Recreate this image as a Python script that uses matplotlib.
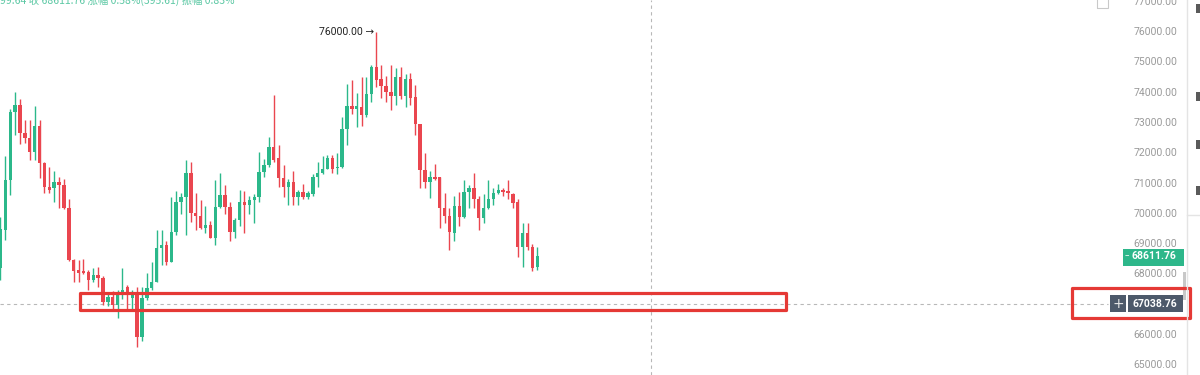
import matplotlib.pyplot as plt
from matplotlib.patches import Rectangle
from matplotlib.lines import Line2D
import matplotlib.transforms as mtransforms

# candle data, one entry per bar
opens = [68200, 69450, 71116, 73360, 73590, 72670, 72500, 72040, 72900, 71680,
         70880, 70850, 71050, 70950, 70190, 68476, 68150, 68100, 68080, 67816,
         67981, 67880, 67090, 67255, 66990, 67320, 67580, 67220, 67390, 65935,
         67220, 67550, 67750, 68870, 68970, 68410, 69400, 70390, 70555, 71350,
         70030, 69930, 69530, 69630, 69200, 70225, 70620, 70225, 69400, 69800,
         70390, 70290, 70450, 70550, 71380, 71610, 72200, 71840, 71180, 70885,
         71050, 70555, 70720, 70555, 70650, 71215, 71350, 71480, 71840, 71500,
         71545, 72800, 73560, 73460, 73525, 73260, 73950, 74845, 74450, 74220,
         74020, 73890, 74515, 73890, 74450, 73855, 72960, 71450, 71050, 71215,
         71215, 70192, 69928, 69370, 70260, 69900, 70720, 70850, 70490, 69860,
         70190, 70490, 70690, 70800, 70750, 70650, 70390, 68900, 69370, 68900,
         68245]
highs = [69900, 71900, 73450, 74020, 73800, 73100, 73100, 73560, 73100, 71700,
         71545, 71400, 71200, 71150, 70500, 68500, 68480, 68500, 68150, 68200,
         68250, 67950, 67400, 67450, 67500, 68210, 67650, 67500, 67580, 67600,
         68050, 68410, 69466, 69450, 69100, 70555, 70750, 70700, 71776, 71700,
         70700, 70450, 70250, 69750, 71116, 71350, 70950, 70400, 69850, 70785,
         70750, 70600, 70650, 72040, 71800, 72545, 73921, 72271, 71600, 71150,
         71400, 70800, 71000, 70750, 71300, 71700, 71900, 71950, 71950, 72000,
         73195, 74300, 74416, 74000, 74515, 74500, 74900, 76000, 74900, 74550,
         74900, 74800, 74850, 74600, 74650, 74250, 72960, 72000, 71400, 71650,
         71215, 70700, 70200, 70588, 70720, 71100, 70950, 71350, 70600, 70650,
         71100, 70850, 71000, 70850, 71116, 70700, 70500, 69700, 69700, 69000,
         68900]
lows = [67800, 69150, 70620, 72600, 72300, 72340, 71780, 71780, 71180, 70690,
        70700, 70390, 70190, 70150, 68450, 67750, 67750, 68000, 67486, 67750,
        67600, 67000, 66950, 66850, 66560, 67200, 66850, 66850, 65605, 65800,
        67150, 67500, 67750, 68300, 68300, 68400, 69300, 70000, 69300, 69740,
        69466, 69500, 69350, 69200, 68971, 70200, 70000, 69100, 69200, 69600,
        69367, 70000, 69700, 70400, 71200, 71550, 71700, 70885, 70555, 70300,
        70280, 70300, 70500, 70500, 70600, 70900, 71300, 71480, 71350, 71300,
        71500, 72271, 73300, 72865, 72900, 73200, 73700, 74200, 73822, 73700,
        73420, 73600, 73800, 73525, 73600, 72600, 70850, 70850, 70522, 71100,
        69530, 69700, 68800, 69100, 69600, 69850, 70200, 70200, 69466, 69700,
        70150, 70300, 70650, 70600, 70500, 70200, 68575, 68245, 68800, 68100,
        68150]
closes = [69500, 71100, 73360, 73590, 72670, 72500, 72040, 72900, 71680, 70885,
          70800, 71050, 70950, 70190, 68476, 68113, 68050, 68050, 67816, 67981,
          67880, 67090, 67255, 66990, 67320, 67486, 67420, 67390, 65935, 67220,
          67550, 67750, 68870, 68970, 68410, 69400, 70390, 70555, 71350, 70030,
          69930, 69530, 69630, 69200, 70225, 70620, 70225, 69400, 69800, 70390,
          70290, 70450, 70550, 71380, 71610, 72200, 71780, 71180, 70885, 71050,
          70555, 70720, 70555, 70700, 71215, 71350, 71480, 71840, 71480, 71560,
          72800, 73560, 73460, 73550, 73260, 73950, 74845, 74416, 74220, 74020,
          73890, 74515, 73890, 74450, 73822, 72960, 71450, 71050, 71215, 71150,
          70192, 69928, 69400, 70260, 69900, 70720, 70850, 70490, 69860, 70190,
          70490, 70690, 70780, 70720, 70680, 70360, 68900, 69370, 68900, 68212,
          68611.76]

price_ticks = [65000, 66000, 67000, 68000, 69000, 70000, 71000, 72000, 73000, 74000, 75000, 76000, 77000]
last_price = 68611.76
cross_price = 67038.76
cross_bar = 133.3
peak_label = '76000.00'
header = '99.64 收 68611.76 涨幅 0.58%(395.61) 振幅 0.83%'

UP = '#2bb88a'
DOWN = '#ea464f'
HILITE = '#e53935'
W, H = 1200, 375

fig = plt.figure(figsize=(12, 3.75), dpi=100)
fig.patch.set_facecolor('white')
ax = fig.add_axes([0, 0, 1, 1])
ax.set_xlim(-0.1, 245.8)
ax.set_ylim(64680, 77056)
ax.axis('off')


def px(x, y):
    # pixel position -> figure fraction (for overlay boxes)
    return x / W, 1 - y / H


def box(x0, y0, x1, y1, z=5, **kw):
    # overlay rectangle given in pixels, drawn inside ax so zorder works
    r = Rectangle(px(x0, y1), (x1 - x0) / W, (y1 - y0) / H,
                  transform=fig.transFigure, clip_on=False, zorder=z, **kw)
    ax.add_patch(r)


# candles
idx = list(range(len(opens)))
colors = [UP if c >= o else DOWN for o, c in zip(opens, closes)]
ax.vlines(idx, lows, highs, colors=colors, linewidth=1.0, zorder=2)
bottoms = [min(o, c) for o, c in zip(opens, closes)]
heights = [max(abs(c - o), 45) for o, c in zip(opens, closes)]
ax.bar(idx, heights, bottom=bottoms, width=0.7, color=colors, linewidth=0, zorder=3)

# crosshair
ax.axhline(cross_price, xmin=0, xmax=1108 / W, color='#b8b8b8', lw=0.8, ls=(0, (3, 3)), zorder=1)
ax.axvline(cross_bar, color='#b8b8b8', lw=0.8, ls=(0, (3, 3)), zorder=1)

# peak marker
peak_i = highs.index(max(highs))
ax.text(peak_i - 0.5, max(highs), peak_label + ' →', ha='right', va='center',
        fontsize=7.5, color='#222222', family=['Roboto', 'DejaVu Sans'])

# right price scale
ytrans = mtransforms.blended_transform_factory(ax.transAxes, ax.transData)
for p in price_ticks:
    ax.text(1177 / W, p, f'{p:.2f}', transform=ytrans, ha='right', va='center',
            fontsize=7.5, color='#9a9a9a', family='Roboto', zorder=4)

fig.add_artist(Line2D([1187 / W] * 2, [0, 1], color='#e4e4e4', lw=1))
fig.add_artist(Line2D([1187 / W, 1], [1 - 215 / H] * 2, color='#e4e4e4', lw=1))
for yy in [4, 92, 140, 186]:
    box(1196, yy, 1201, yy + 9, facecolor='#5a5a5a', edgecolor='none')
box(1183, 272, 1186, 300, facecolor='#c8c8c8', edgecolor='none')
box(1097, -2, 1108, 8, facecolor='none', edgecolor='#c9c9c9', lw=0.8)

# last price tag
box(1123, 249, 1184, 266, facecolor='#2db78a', edgecolor='none')
ax.text(1154 / W, last_price, f'{last_price:.2f}', transform=ytrans, ha='center', va='center',
        fontsize=7.5, color='white', fontweight='bold', family='Roboto', zorder=6)
ax.text(1127 / W, last_price, '–', transform=ytrans, ha='center', va='center',
        fontsize=6.5, color='white', zorder=6)

# crosshair price tag
box(1110, 295, 1126, 312, facecolor='#4d596a', edgecolor='none')
box(1128, 295, 1183, 312, facecolor='#4d596a', edgecolor='none')
ax.text(1118 / W, cross_price, '+', transform=ytrans, ha='center', va='center',
        fontsize=10, color='#e8e8e8', zorder=6)
ax.text(1155 / W, cross_price, f'{cross_price:.2f}', transform=ytrans, ha='center', va='center',
        fontsize=7.5, color='white', fontweight='bold', family='Roboto', zorder=6)

# red highlight boxes
for x0, y0, x1, y1 in [(80, 293, 786, 310), (1072, 288, 1190, 318)]:
    box(x0, y0, x1, y1, z=7, facecolor='none', edgecolor=HILITE, lw=2.3, joinstyle='round')

# header line (cut off at the top)
fig.text(0, 1 - 4 / H, header, va='baseline', ha='left', fontsize=7.5, color='#5cc8a4',
         family=['Noto Sans CJK SC', 'DejaVu Sans'])

plt.savefig('out.png', dpi=100, facecolor='white')
